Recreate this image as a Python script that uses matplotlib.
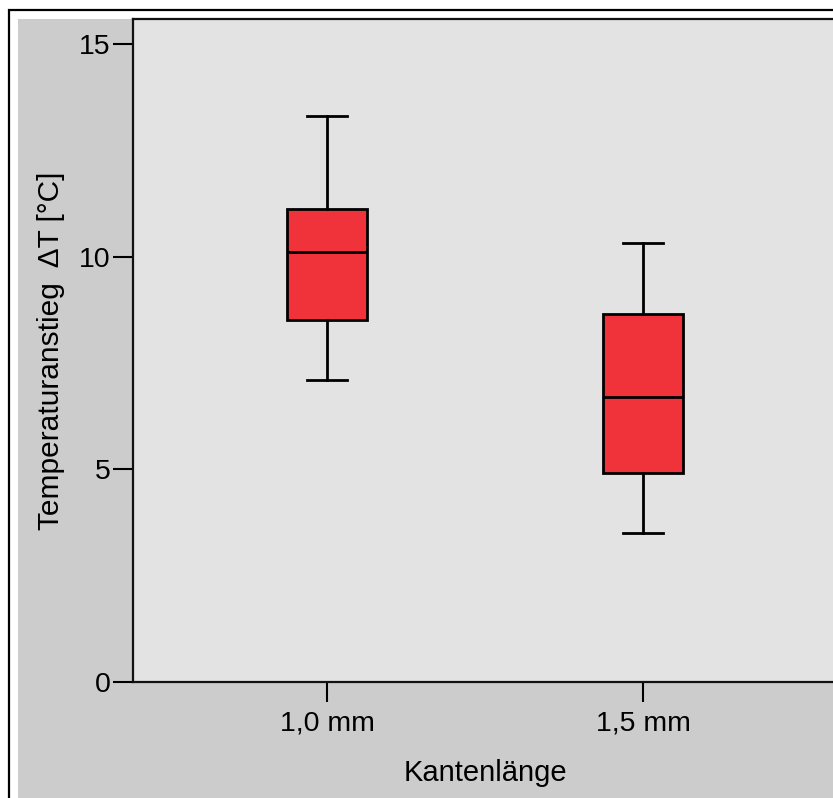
import matplotlib
matplotlib.use("Agg")
import matplotlib.pyplot as plt
from matplotlib.patches import Rectangle

# Data: temperature rise by edge length
categories = ["1,0 mm", "1,5 mm"]
whisker_low = [7.10, 3.50]
q1 = [8.51, 4.91]
median = [10.11, 6.70]
q3 = [11.12, 8.65]
whisker_high = [13.31, 10.32]
y_ticks = [0, 5, 10, 15]

W, H = 833, 798
plt.rcParams["font.family"] = ["Liberation Sans", "DejaVu Sans"]
fig = plt.figure(figsize=(W / 100, H / 100), dpi=100)
fig.patch.set_facecolor("white")

# Outer frame and grey panel (behind the axes)
fig.patches.append(Rectangle((9 / W, -0.1), 2.0, (H - 10) / H + 0.1,
                             transform=fig.transFigure, facecolor="none",
                             edgecolor="black", linewidth=1.6, zorder=-10))
fig.patches.append(Rectangle((18 / W, -0.1), 2.0, (H - 19) / H + 0.1,
                             transform=fig.transFigure, facecolor="#cccccc",
                             edgecolor="none", zorder=-9))

left_px, right_px, top_px, bottom_px = 133, 837, 19, 682
ax = fig.add_axes([left_px / W, 1 - bottom_px / H,
                   (right_px - left_px) / W, (bottom_px - top_px) / H])
ax.set_zorder(1)
ax.set_facecolor("#e3e3e3")

stats = []
for i, c in enumerate(categories):
    stats.append(dict(label=c, whislo=whisker_low[i], q1=q1[i], med=median[i],
                      q3=q3[i], whishi=whisker_high[i], fliers=[]))

lw = 2.0
ax.bxp(stats, positions=[1, 2], widths=0.256, capwidths=0.124,
       patch_artist=True, showfliers=False,
       boxprops=dict(facecolor="#f0323a", edgecolor="black", linewidth=lw),
       medianprops=dict(color="black", linewidth=lw),
       whiskerprops=dict(color="black", linewidth=lw),
       capprops=dict(color="black", linewidth=lw))

ax.set_xlim(0.386, 2.614)
ax.set_ylim(0, 15.59)
ax.set_yticks(y_ticks)
ax.set_yticklabels([str(t) for t in y_ticks])
ax.set_xticks([1, 2])
ax.set_xticklabels(categories)

for s in ax.spines.values():
    s.set_linewidth(1.6)
    s.set_color("#111111")

ax.tick_params(axis="both", direction="out", length=14.4, width=1.5,
               labelsize=20.5, colors="black")
ax.tick_params(axis="y", pad=1.5)
ax.tick_params(axis="x", pad=6)

ax.set_xlabel("Kantenlänge", fontsize=21, labelpad=16)
ax.set_ylabel("Temperaturanstieg  \u0394T [°C]", fontsize=21.5, labelpad=10)

fig.savefig("out.png", dpi=100)
